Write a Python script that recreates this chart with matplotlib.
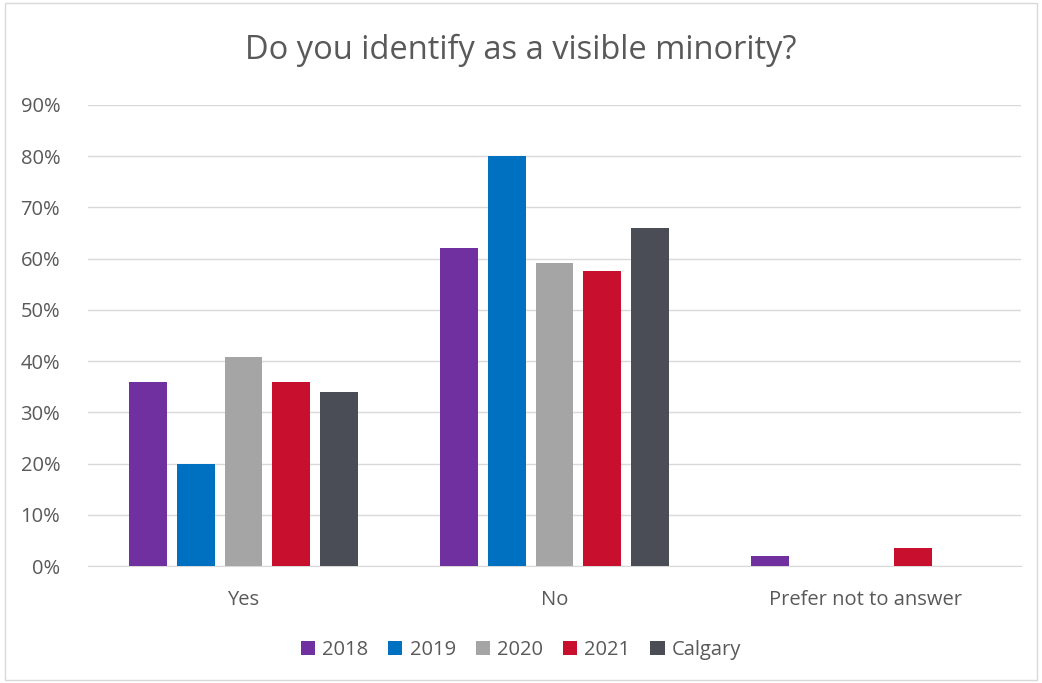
import numpy as np
import matplotlib.pyplot as plt
from matplotlib.ticker import PercentFormatter

categories = ['Yes', 'No', 'Prefer not to answer']
series = ['2018', '2019', '2020', '2021', 'Calgary']
v2018 = [0.36, 0.62, 0.02]
v2019 = [0.20, 0.80, 0.0]
v2020 = [0.408, 0.592, 0.0]
v2021 = [0.36, 0.576, 0.035]
vcalgary = [0.34, 0.66, 0.0]
colors = ['#7030A0', '#0070C0', '#A5A5A5', '#C8102E', '#4A4D55']

plt.rcParams['font.family'] = ['Open Sans', 'DejaVu Sans']
txt = '#595959'

fig = plt.figure(figsize=(10.42, 6.83), dpi=100)
ax = fig.add_axes([88/1042, 1-566/683, (1021-88)/1042, (566-105)/683])

x = np.arange(len(categories))
step = 0.154
width = 0.122
for i, (name, vals) in enumerate(zip(series, [v2018, v2019, v2020, v2021, vcalgary])):
    ax.bar(x + (i - 2) * step, vals, width, color=colors[i], label=name, zorder=3)

ax.set_xlim(-0.5, 2.5)
ax.set_ylim(0, 0.9)
ax.set_yticks(np.arange(0, 0.91, 0.1))
ax.yaxis.set_major_formatter(PercentFormatter(1.0, decimals=0))
ax.set_xticks(x)
ax.set_xticklabels(categories)
ax.grid(axis='y', color='#D9D9D9', linewidth=1, zorder=0)
for s in ['top', 'right', 'left']:
    ax.spines[s].set_visible(False)
ax.spines['bottom'].set_color('#D9D9D9')
ax.tick_params(axis='both', length=0, colors=txt, labelsize=14.5)
ax.tick_params(axis='x', pad=17)
ax.tick_params(axis='y', pad=20)

fig.text(0.5, 1 - 50/683, 'Do you identify as a visible minority?', ha='center', va='center',
         fontsize=23.5, color=txt)

fig.legend(loc='center', bbox_to_anchor=(0.5, 1 - 650/683), ncol=5, frameon=False,
           fontsize=14.5, labelcolor=txt, handlelength=0.7, handleheight=0.7,
           handletextpad=0.35, columnspacing=1.0)

border = plt.Rectangle((0.005, 0.005), 0.99, 0.99, transform=fig.transFigure,
                       fill=False, edgecolor='#D9D9D9', linewidth=1)
fig.patches.append(border)

fig.savefig('out.png', dpi=100)
